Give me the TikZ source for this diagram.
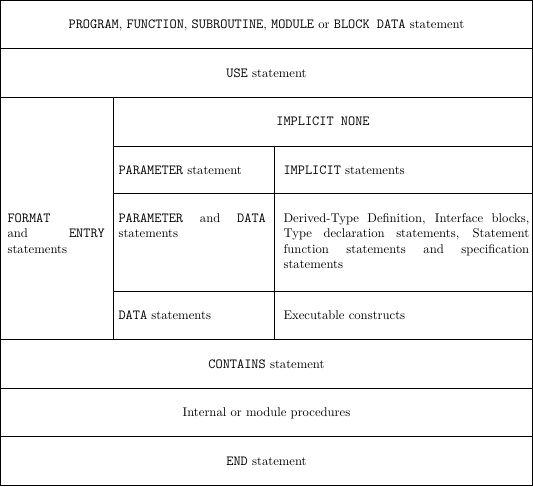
\documentclass[tikz,border=0pt]{standalone}
\hyphenpenalty=10000
\exhyphenpenalty=10000
\newcommand{\kw}[1]{{\fontsize{11}{12.1}\selectfont\ttfamily #1}}
\begin{document}
\begin{tikzpicture}[x=0.79pt,y=-0.79pt,
  rule/.style={line width=0.8pt},
  celltext/.style={inner sep=0pt, font=\fontsize{10}{12.1}\selectfont},
  line1/.style={celltext, anchor=base},
  linew/.style={celltext, anchor=base west},
  para/.style={celltext, anchor=base west, align=justify},
]
\useasboundingbox (0,0) rectangle (533,486);
% frame and rules
\draw[rule] (0.5,0.5) rectangle (532.5,485.5);
\foreach \yy in {48.5,97.5,339.5,388.5,436.5}
  \draw[rule] (0.5,\yy) -- (532.5,\yy);
\draw[rule] (113.5,97.5) -- (113.5,339.5);
\draw[rule] (113.5,146.5) -- (532.5,146.5);
\draw[rule] (113.5,193.5) -- (532.5,193.5);
\draw[rule] (113.5,291.5) -- (532.5,291.5);
\draw[rule] (274.5,146.5) -- (274.5,339.5);
% texts
\node[line1] (title) at (266.5,28.5) {\kw{PROGRAM}, \kw{FUNCTION}, \kw{SUBROUTINE}, \kw{MODULE} or \kw{BLOCK DATA} statement};
\node[line1] (use) at (266.5,77.5) {\kw{USE} statement};
\node[line1] (implnone) at (323,125.8) {\kw{IMPLICIT NONE}};
\node[linew] (param) at (118.3,174) {\kw{PARAMETER} statement};
\node[linew] (impl) at (283.3,174) {\kw{IMPLICIT} statements};
\node[para, text width=76.9pt] (format) at (7.3,222.5) {\kw{FORMAT}\newline and \kw{ENTRY} statements};
\node[para, text width=116.4pt] (paramdata) at (118.3,222.5) {\kw{PARAMETER} and \kw{DATA} statements};
\node[para, text width=194.1pt] (derived) at (283.3,222.5) {Derived-Type Definition, Interface blocks, Type declaration statements, Statement function statements and specification statements};
\node[linew] (data) at (118.3,319) {\kw{DATA} statements};
\node[linew] (exec) at (283.3,319) {Executable constructs};
\node[line1] (contains) at (266.5,368) {\kw{CONTAINS} statement};
\node[line1] (internal) at (266.5,416.8) {Internal or module procedures};
\node[line1] (end) at (266.5,465) {\kw{END} statement};
\end{tikzpicture}
\end{document}
